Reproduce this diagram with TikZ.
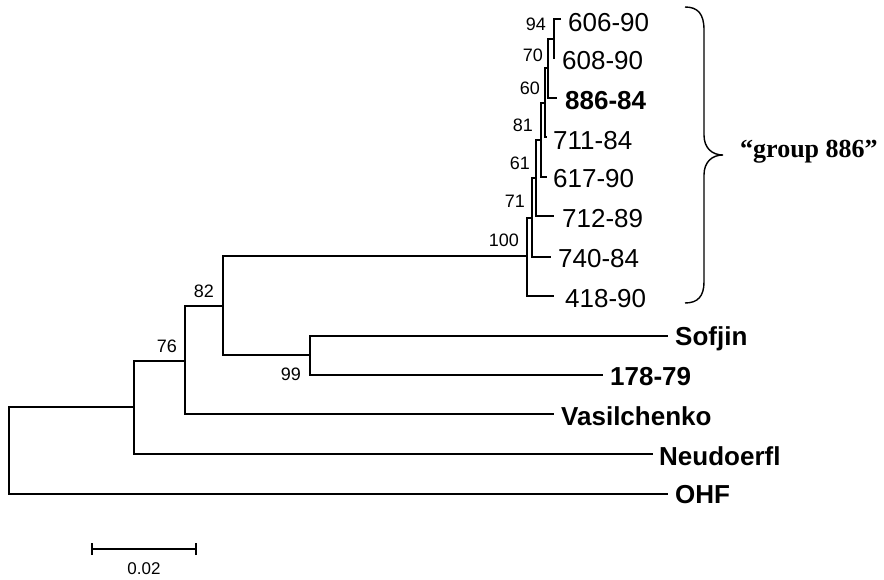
\documentclass[tikz,border=0pt]{standalone}
\usepackage{fontspec}
\setmainfont{Liberation Sans}
\newfontfamily\grpfont{Liberation Serif}
\begin{document}
\begin{tikzpicture}[x=1pt,y=-1pt,
  branch/.style={line width=1.4pt,line cap=rect},
  tiplab/.style={anchor=base west,inner sep=0pt,font=\fontsize{26}{30}\selectfont},
  tipbold/.style={anchor=base west,inner sep=0pt,font=\fontsize{26}{30}\selectfont\bfseries},
  boot/.style={anchor=base east,inner sep=0pt,font=\fontsize{18}{20}\selectfont},
  grp/.style={anchor=base west,inner sep=0pt,font=\fontsize{26}{30}\selectfont\grpfont\bfseries}]
\useasboundingbox (0,0) rectangle (884,580);
% internal nodes
\coordinate (root) at (9,450.5);
\coordinate (n76) at (134,407);
\coordinate (n82) at (185,361);
\coordinate (nX) at (223,306);
\coordinate (n99) at (310,355);
\coordinate (n100) at (527,256);
\coordinate (n71) at (532,218);
\coordinate (n61) at (536,178);
\coordinate (n81) at (541,140);
\coordinate (n60) at (545,103);
\coordinate (n70) at (548,68);
\coordinate (n94) at (554,39);
% tips
\coordinate (tOHF) at (667,494);
\coordinate (tNeu) at (652,454);
\coordinate (tVas) at (553,414);
\coordinate (tSof) at (667,336);
\coordinate (t178) at (602,375);
\coordinate (t418) at (553,296);
\coordinate (t740) at (550,257);
\coordinate (t712) at (553,216);
\coordinate (t617) at (546,177);
\coordinate (t711) at (546,137);
\coordinate (t886) at (556,98);
\coordinate (t608) at (554.6,58);
\coordinate (t606) at (560,19);
% branches
\draw[branch] (root) |- (n76);
\draw[branch] (root) |- (tOHF);
\draw[branch] (n76) |- (n82);
\draw[branch] (n76) |- (tNeu);
\draw[branch] (n82) |- (nX);
\draw[branch] (n82) |- (tVas);
\draw[branch] (nX) |- (n100);
\draw[branch] (nX) |- (n99);
\draw[branch] (n99) |- (tSof);
\draw[branch] (n99) |- (t178);
\draw[branch] (n100) |- (n71);
\draw[branch] (n100) |- (t418);
\draw[branch] (n71) |- (n61);
\draw[branch] (n71) |- (t740);
\draw[branch] (n61) |- (n81);
\draw[branch] (n61) |- (t712);
\draw[branch] (n81) |- (n60);
\draw[branch] (n81) |- (t617);
\draw[branch] (n60) |- (n70);
\draw[branch] (n60) |- (t711);
\draw[branch] (n70) |- (n94);
\draw[branch] (n70) |- (t886);
\draw[branch] (n94) |- (t606);
\draw[branch] (n94) |- (t608);
% tip labels
\node[tiplab] (l606) at (568,31.5) {606-90};
\node[tiplab] (l608) at (562,70) {608-90};
\node[tipbold] (l886) at (565,110) {886-84};
\node[tiplab] (l711) at (553,150) {711-84};
\node[tiplab] (l617) at (553,188) {617-90};
\node[tiplab] (l712) at (562,228) {712-89};
\node[tiplab] (l740) at (558,268) {740-84};
\node[tiplab] (l418) at (565,308) {418-90};
\node[tipbold] (lSof) at (675,345) {Sofjin};
\node[tipbold] (l178) at (610,385) {178-79};
\node[tipbold] (lVas) at (561,425) {Vasilchenko};
\node[tipbold] (lNeu) at (659,465) {Neudoerfl};
\node[tipbold] (lOHF) at (675,503) {OHF};
% bootstrap values
\node[boot] (b94) at (546,31) {94};
\node[boot] (b70) at (543,62) {70};
\node[boot] (b60) at (540,95) {60};
\node[boot] (b81) at (533,132) {81};
\node[boot] (b61) at (530,170) {61};
\node[boot] (b71) at (525,208) {71};
\node[boot] (b100) at (519,247) {100};
\node[boot] (b82) at (214,298) {82};
\node[boot] (b76) at (177,352) {76};
\node[boot] (b99) at (301,380) {99};
% brace
\draw[line width=1.4pt] (685,7) .. controls (698,7) and (704,14) .. (704,30)
  -- (704,135) .. controls (704,148) and (712,155) .. (723,155)
  .. controls (712,155) and (704,162) .. (704,175)
  -- (704,282) .. controls (704,296) and (698,303) .. (685,303);
\node[grp] (grp) at (740,158) {“group 886”};
% scale bar
\coordinate (sA) at (92,549);
\coordinate (sB) at (196,549);
\draw[line width=1.4pt] (sA) -- (sB);
\draw[line width=1.4pt] ([yshift=-6pt]sA) -- ([yshift=6pt]sA);
\draw[line width=1.4pt] ([yshift=-6pt]sB) -- ([yshift=6pt]sB);
\node[anchor=base,inner sep=0pt,font=\fontsize{17}{20}\selectfont] (sl) at (144,574) {0.02};
\end{tikzpicture}
\end{document}
